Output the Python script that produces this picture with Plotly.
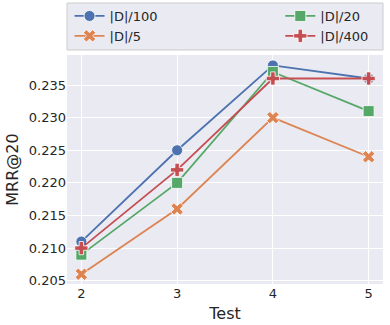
import plotly.graph_objects as go

tests = [2, 3, 4, 5]
d100 = [0.211, 0.225, 0.238, 0.236]
d5 = [0.206, 0.216, 0.230, 0.224]
d20 = [0.209, 0.220, 0.237, 0.231]
d400 = [0.210, 0.222, 0.236, 0.236]
y_ticks = [0.205, 0.210, 0.215, 0.220, 0.225, 0.230, 0.235]

series = [
    ("|D|/100", d100, "#4C72B0", "circle", "legend"),
    ("|D|/5", d5, "#DD8452", "x", "legend"),
    ("|D|/20", d20, "#55A868", "square", "legend2"),
    ("|D|/400", d400, "#C44E52", "cross", "legend2"),
]

fig = go.Figure()
for name, vals, color, sym, lg in series:
    fig.add_trace(go.Scatter(
        x=tests, y=vals, name=name, mode="lines+markers", legend=lg,
        line=dict(color=color, width=1.8),
        marker=dict(symbol=sym, size=11, color=color, line=dict(color="white", width=0.8)),
    ))

W, H = 390, 325
L, R, T, B = 67, 7, 55, 41
ph = H - T - B

fig.add_shape(type="rect", xref="paper", yref="paper",
              x0=0, x1=1, y0=(H - B - 50) / ph, y1=(H - B - 3) / ph,
              fillcolor="#EAEAF2", line=dict(color="#CCCCCC", width=1), layer="below")

leg_common = dict(orientation="v", y=(H - B - 1) / ph, xanchor="left", yanchor="top",
                  bgcolor="rgba(0,0,0,0)", font=dict(size=13), tracegroupgap=0)

fig.update_layout(
    width=W, height=H,
    margin=dict(l=L, r=R, t=T, b=B, autoexpand=False),
    paper_bgcolor="white", plot_bgcolor="#EAEAF2",
    font=dict(family="DejaVu Sans", size=13, color="#262626"),
    legend=dict(x=0.008, **leg_common),
    legend2=dict(x=0.675, **leg_common),
    xaxis=dict(range=[1.85, 5.15], tickvals=tests, showgrid=True, gridcolor="white",
               gridwidth=1, zeroline=False, title=dict(text="Test", standoff=7),
               ticks="", showline=False, automargin=False),
    yaxis=dict(range=[0.2045, 0.2396], tickvals=y_ticks, tickformat=".3f",
               showgrid=True, gridcolor="white", gridwidth=1, zeroline=False,
               title=dict(text="MRR@20", standoff=6), ticks="", automargin=False),
)

fig.write_html("out.html", config={"displayModeBar": False},
               post_script="document.body.style.margin='0';")
